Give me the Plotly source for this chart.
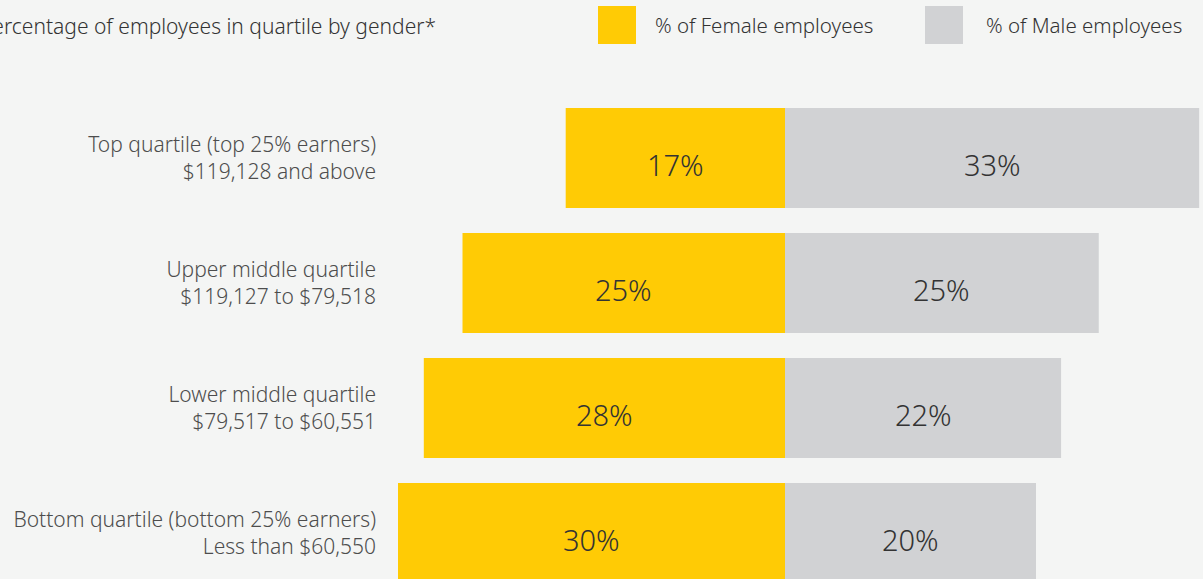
import plotly.graph_objects as go

W, H = 1203, 579

categories = [
    "Top quartile (top 25% earners)<br>$119,128 and above",
    "Upper middle quartile<br>$119,127 to $79,518",
    "Lower middle quartile<br>$79,517 to $60,551",
    "Bottom quartile (bottom 25% earners)<br>Less than $60,550",
]
female_pct = [17, 25, 28, 30]
male_pct = [33, 25, 22, 20]

title_text = "Percentage of employees in quartile by gender*"
legend_female = "% of Female employees"
legend_male = "% of Male employees"

YELLOW = "#FFCB05"
GREY = "#D1D2D4"
BG = "#F4F5F4"
TXT = "#333333"
FONT = "Noto Sans"

center_px = 785
fem_scale = 12.9   # px per percent
male_scale = 12.55

fig = go.Figure()
fig.add_trace(go.Bar(
    y=categories, x=female_pct, orientation="h", xaxis="x", yaxis="y",
    marker=dict(color=YELLOW, line=dict(width=0)), width=0.8,
    hoverinfo="skip", showlegend=False,
))
fig.add_trace(go.Bar(
    y=categories, x=male_pct, orientation="h", xaxis="x2", yaxis="y",
    marker=dict(color=GREY, line=dict(width=0)), width=0.8,
    hoverinfo="skip", showlegend=False,
))

def px_x(x):
    return x / W

def px_y(y):
    return 1 - y / H

shapes = [
    dict(type="rect", xref="paper", yref="paper", x0=px_x(598), x1=px_x(636),
         y0=px_y(44), y1=px_y(6), fillcolor=YELLOW, line=dict(width=0)),
    dict(type="rect", xref="paper", yref="paper", x0=px_x(925), x1=px_x(963),
         y0=px_y(44), y1=px_y(6), fillcolor=GREY, line=dict(width=0)),
]
annotations = [
    dict(text=title_text, xref="paper", yref="paper", x=px_x(438), y=px_y(26),
         xanchor="right", yanchor="middle", showarrow=False,
         font=dict(family=FONT, size=21, color=TXT, weight=300)),
    dict(text=legend_female, xref="paper", yref="paper", x=px_x(653), y=px_y(25),
         xanchor="left", yanchor="middle", showarrow=False,
         font=dict(family=FONT, size=20.5, color=TXT, weight=300)),
    dict(text=legend_male, xref="paper", yref="paper", x=px_x(984), y=px_y(25),
         xanchor="left", yanchor="middle", showarrow=False,
         font=dict(family=FONT, size=20.5, color=TXT, weight=300)),
]
# value labels, centred in each bar segment (slightly below centre as in the reference)
for cat, f, m in zip(categories, female_pct, male_pct):
    annotations.append(dict(text=f"{f}%", xref="x", yref="y", x=f / 2, y=cat,
                            xanchor="center", yanchor="middle", showarrow=False, yshift=-6,
                            font=dict(family=FONT, size=29, color=TXT, weight=300)))
    annotations.append(dict(text=f"{m}%", xref="x2", yref="y", x=m / 2, y=cat,
                            xanchor="center", yanchor="middle", showarrow=False, yshift=-6,
                            font=dict(family=FONT, size=29, color=TXT, weight=300)))

fig.update_layout(
    width=W, height=H,
    margin=dict(l=0, r=0, t=0, b=0, pad=0),
    paper_bgcolor=BG, plot_bgcolor=BG,
    bargap=0.2,
    xaxis=dict(domain=[0, center_px / W], range=[center_px / fem_scale, 0],
               visible=False, fixedrange=True),
    xaxis2=dict(domain=[center_px / W, 1], range=[0, (W - center_px) / male_scale],
                visible=False, anchor="y", fixedrange=True),
    yaxis=dict(type="category", categoryorder="array", categoryarray=categories,
               range=[(H - 158) / 125, -158 / 125],
               anchor="free", position=376 / W, side="left",
               showgrid=False, zeroline=False, showline=False, ticks="",
               tickfont=dict(family=FONT, size=21, color="#4D4D4D", weight=300),
               fixedrange=True),
    shapes=shapes,
    annotations=annotations,
    font=dict(family=FONT),
)

fig.write_html(
    "out.html",
    config={"displayModeBar": False},
    post_script="document.body.style.margin='0';document.body.style.background='#F4F5F4';",
)
